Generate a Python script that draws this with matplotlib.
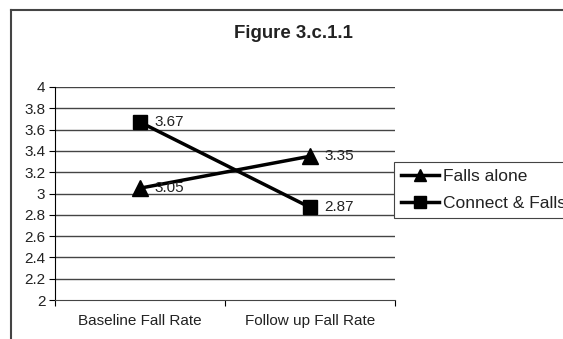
import numpy as np
import matplotlib.pyplot as plt
from matplotlib.lines import Line2D

plt.rcParams['font.family'] = ['Liberation Sans', 'DejaVu Sans']

categories = ['Baseline Fall Rate', 'Follow up Fall Rate']
falls_alone = [3.05, 3.35]
connect_falls = [3.67, 2.87]
y_ticks = [2, 2.2, 2.4, 2.6, 2.8, 3, 3.2, 3.4, 3.6, 3.8, 4]
y_tick_labels = ['2', '2.2', '2.4', '2.6', '2.8', '3', '3.2', '3.4', '3.6', '3.8', '4']

W, H = 563, 339
fig = plt.figure(figsize=(W / 100, H / 100), dpi=100)
ax = fig.add_axes([55 / W, 1 - 300 / H, 340 / W, 213 / H])

x = np.arange(len(categories))

ax.plot(x, falls_alone, color='black', lw=2.5, marker='^', markersize=11,
        label='Falls alone', zorder=3)
ax.plot(x, connect_falls, color='black', lw=2.5, marker='s', markersize=10,
        label='Connect & Falls', zorder=3)

for xi, v in zip(x, falls_alone):
    ax.annotate(f'{v:.2f}', (xi, v), xytext=(10.5, 0), textcoords='offset points',
                ha='left', va='center', fontsize=11, color='#222222')
for xi, v in zip(x, connect_falls):
    ax.annotate(f'{v:.2f}', (xi, v), xytext=(10.5, 0), textcoords='offset points',
                ha='left', va='center', fontsize=11, color='#222222')

ax.set_xlim(-0.5, 1.5)
ax.set_ylim(2, 4)
ax.set_yticks(y_ticks)
ax.set_yticklabels(y_tick_labels, fontsize=11, color='#222222')
for yv in y_ticks[1:]:
    ax.axhline(yv, color='#444444', lw=1, zorder=1)

ax.set_xticks([-0.5, 0.5, 1.5])
ax.set_xticklabels([])
ax.set_xticks(x, minor=True)
ax.set_xticklabels(categories, minor=True, fontsize=11, color='#222222')
ax.tick_params(axis='x', which='minor', length=0, pad=10)
ax.tick_params(axis='x', which='major', length=4, direction='out', color='black')
ax.tick_params(axis='y', length=4, direction='out', pad=3)

for s in ['top', 'right']:
    ax.spines[s].set_visible(False)
ax.spines['left'].set_color('black')
ax.spines['bottom'].set_color('#444444')

fig.text(293 / W, 1 - 34 / H, 'Figure 3.c.1.1', fontsize=13.4, fontweight='bold',
         ha='center', va='center', color='#222222')

# outer chart frame (cut off on right and bottom)
fig.add_artist(Line2D([11 / W, 11 / W], [0, 1 - 10 / H], transform=fig.transFigure,
                      color='#444444', lw=1.5))
fig.add_artist(Line2D([11 / W, 1], [1 - 10 / H, 1 - 10 / H], transform=fig.transFigure,
                      color='#444444', lw=1.5))

leg = ax.legend(loc='upper left', bbox_to_anchor=(394 / W, 1 - 162 / H),
                bbox_transform=fig.transFigure, fontsize=12.5, frameon=True,
                fancybox=False, edgecolor='#444444', framealpha=1,
                handlelength=2.2, handletextpad=0.25, borderpad=0.4,
                borderaxespad=0, labelspacing=0.7, markerscale=0.85)
leg.get_frame().set_linewidth(0.8)
for t in leg.get_texts():
    t.set_color('#222222')

fig.savefig('out.png', dpi=100)
